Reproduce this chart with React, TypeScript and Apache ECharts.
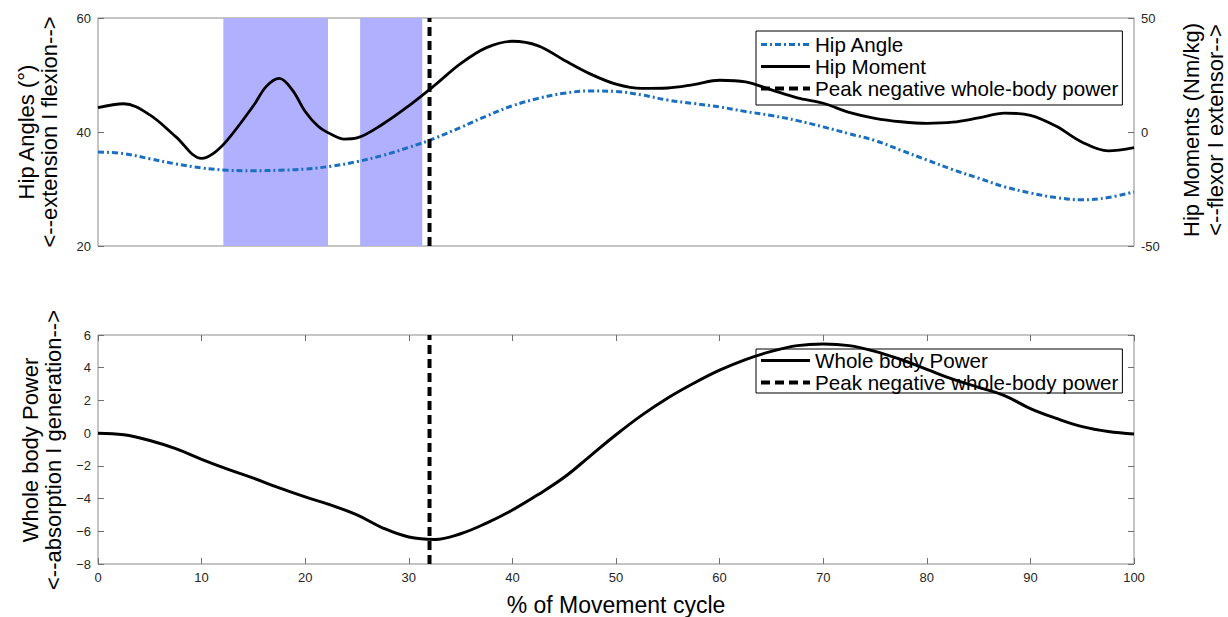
import React, { useEffect, useRef } from "react";
import * as echarts from "echarts";

const FONT = "'Liberation Sans', Arial, Helvetica, sans-serif";

// % of movement cycle (sample positions)
const cycleX = [0, 2.5, 5, 7.5, 10, 12.5, 15, 17.5, 20, 22.5, 25, 27.5, 30, 32.5, 35, 37.5, 40, 42.5, 45, 47.5, 50, 52.5, 55, 57.5, 60, 62.5, 65, 67.5, 70, 72.5, 75, 77.5, 80, 82.5, 85, 87.5, 90, 92.5, 95, 97.5, 100];

// top panel (left axis, degrees)
const hipAngle = [36.5, 36.2, 35.3, 34.4, 33.7, 33.3, 33.2, 33.3, 33.5, 34.0, 34.8, 35.9, 37.3, 38.9, 40.8, 42.8, 44.6, 45.9, 46.8, 47.2, 47.1, 46.5, 45.6, 45.0, 44.4, 43.6, 42.9, 42.0, 40.9, 39.7, 38.5, 36.8, 35.1, 33.4, 31.9, 30.4, 29.3, 28.5, 28.1, 28.5, 29.5];

// top panel (right axis, Nm/kg) - denser sampling around the sharp features
const momentX = [0, 2.5, 5, 7.5, 10, 11.25, 12.5, 15, 16.25, 17.5, 18.75, 20, 21.25, 22.5, 23.75, 25, 27.5, 30, 32.5, 35, 37.5, 40, 42.5, 45, 47.5, 50, 52.5, 55, 57.5, 60, 62.5, 65, 67.5, 70, 72.5, 75, 77.5, 80, 82.5, 85, 87.5, 90, 92.5, 95, 97.5, 100];
const hipMoment = [10.7, 12.4, 7.5, -2, -11.6, -9, -3.5, 11.5, 20, 23.5, 18.5, 9, 2.5, -1, -3.1, -2.6, 3.5, 11.5, 20.5, 30, 37, 39.8, 37.8, 31.5, 25.5, 21, 19.1, 19.3, 20.8, 22.7, 22, 18.5, 15, 12.6, 8.6, 6, 4.5, 3.8, 4.3, 6.2, 8.3, 7.3, 2.5, -4.5, -8.3, -6.9];

// bottom panel
const wholeBodyPower = [0, -0.1, -0.45, -0.95, -1.6, -2.2, -2.75, -3.35, -3.9, -4.4, -5.0, -5.8, -6.35, -6.5, -6.15, -5.5, -4.7, -3.75, -2.7, -1.4, -0.1, 1.1, 2.15, 3.05, 3.85, 4.5, 5.0, 5.35, 5.45, 5.35, 5.0, 4.5, 3.9, 3.3, 2.8, 2.3, 1.5, 0.9, 0.4, 0.1, -0.05];

const peakX = 32;
const shadedBands = [
  [12.1, 22.2],
  [25.3, 31.3],
];

const angleRange = [20, 60];
const momentRange = [-50, 50];
const powerRange = [-8, 6];

const legendTop = ["Hip Angle", "Hip Moment", "Peak negative whole-body power"];
const legendBottom = ["Whole body Power", "Peak negative whole-body power"];

const zip = (xs: number[], ys: number[]) => xs.map((x, i) => [x, ys[i]]);

const BORDER = "#8a8a8a";
const LABEL = "#262626";

export default function App() {
  const ref = useRef<HTMLDivElement>(null);
  useEffect(() => {
    if (!ref.current) return;
    const chart = echarts.init(ref.current, undefined, { renderer: "svg" });
    const tick = { show: true, inside: true, length: 6, lineStyle: { color: "#707070", width: 1 } };
    const lbl = { color: LABEL, fontSize: 13, fontFamily: FONT, margin: 7 };
    const noLine = { show: false, onZero: false };
    const minus = (v: number) => String(v).replace("-", "\u2212");
    const peakLine = { color: "#000", width: 4, type: [9, 5] as any };
    const legendCommon = {
      orient: "vertical",
      left: 756,
      itemWidth: 49,
      itemHeight: 14,
      itemGap: 1,
      itemTextGap: 6,
      borderColor: "#000",
      borderWidth: 1,
      borderRadius: 0,
      backgroundColor: "#fff",
      selectedMode: false,
      itemStyle: { opacity: 0, borderWidth: 0 },
      lineStyle: { width: "inherit", type: "inherit" },
      textStyle: { fontSize: 20.6, fontFamily: FONT, color: "#000", lineHeight: 20 },
    };
    chart.setOption({
      animation: false,
      grid: [
        { left: 98, top: 18, width: 1036, height: 228, show: true, borderColor: BORDER, borderWidth: 1 },
        { left: 98, top: 335, width: 1036, height: 229, show: true, borderColor: BORDER, borderWidth: 1 },
      ],
      xAxis: [
        { type: "value", gridIndex: 0, min: 0, max: 100, axisLabel: { show: false }, axisTick: { show: false }, axisLine: noLine, splitLine: { show: false } },
        { type: "value", gridIndex: 1, position: "bottom", min: 0, max: 100, interval: 10, axisLabel: lbl, axisTick: tick, axisLine: noLine, splitLine: { show: false } },
        { type: "value", gridIndex: 1, position: "top", min: 0, max: 100, interval: 10, axisLabel: { show: false }, axisTick: tick, axisLine: noLine, splitLine: { show: false } },
      ],
      yAxis: [
        { type: "value", gridIndex: 0, position: "left", min: angleRange[0], max: angleRange[1], interval: 20, axisLabel: lbl, axisTick: tick, axisLine: noLine, splitLine: { show: false } },
        { type: "value", gridIndex: 0, position: "right", min: momentRange[0], max: momentRange[1], interval: 50, axisLabel: lbl, axisTick: tick, axisLine: noLine, splitLine: { show: false } },
        { type: "value", gridIndex: 1, position: "left", min: powerRange[0], max: powerRange[1], interval: 2, axisLabel: { ...lbl, formatter: minus }, axisTick: tick, axisLine: noLine, splitLine: { show: false } },
        { type: "value", gridIndex: 1, position: "right", min: powerRange[0], max: powerRange[1], interval: 2, axisLabel: { show: false }, axisTick: tick, axisLine: noLine, splitLine: { show: false } },
      ],
      legend: [
        { ...legendCommon, data: legendTop, top: 31, padding: [3, 4, 6, 3] },
        { ...legendCommon, data: legendBottom, top: 349, padding: [1, 4, 0, 3] },
      ],
      series: [
        {
          name: "bands",
          type: "line",
          xAxisIndex: 0,
          yAxisIndex: 0,
          data: [],
          z: 1,
          silent: true,
          markArea: {
            silent: true,
            itemStyle: { color: "#b0b0ff", opacity: 1 },
            data: shadedBands.map(([a, b]) => [{ xAxis: a }, { xAxis: b }]),
          },
        },
        {
          name: "Hip Angle",
          type: "line",
          xAxisIndex: 0,
          yAxisIndex: 0,
          data: zip(cycleX, hipAngle),
          smooth: 0.4,
          symbol: "none",
          z: 3,
          lineStyle: { color: "#1a6fc0", width: 3, type: [6, 3, 2, 3] },
          itemStyle: { color: "#1a6fc0" },
        },
        {
          name: "Hip Moment",
          type: "line",
          xAxisIndex: 0,
          yAxisIndex: 1,
          data: zip(momentX, hipMoment),
          smooth: 0.35,
          symbol: "none",
          z: 4,
          lineStyle: { color: "#000", width: 2.8 },
          itemStyle: { color: "#000" },
        },
        {
          name: "Peak negative whole-body power",
          type: "line",
          xAxisIndex: 0,
          yAxisIndex: 0,
          data: [[peakX, angleRange[0]], [peakX, angleRange[1]]],
          symbol: "none",
          z: 5,
          lineStyle: peakLine,
          itemStyle: { color: "#000" },
        },
        {
          name: "Whole body Power",
          type: "line",
          xAxisIndex: 1,
          yAxisIndex: 2,
          data: zip(cycleX, wholeBodyPower),
          smooth: 0.4,
          symbol: "none",
          z: 4,
          lineStyle: { color: "#000", width: 3 },
          itemStyle: { color: "#000" },
        },
        {
          name: "Peak negative whole-body power",
          type: "line",
          xAxisIndex: 1,
          yAxisIndex: 2,
          data: [[peakX, powerRange[0]], [peakX, powerRange[1]]],
          symbol: "none",
          z: 5,
          lineStyle: peakLine,
          itemStyle: { color: "#000" },
        },
      ],
      graphic: [
        {
          type: "text",
          x: 38,
          y: 132,
          rotation: Math.PI / 2,
          style: { text: "Hip Angles (°)\n<--extension I flexion-->", fontSize: 22, lineHeight: 23, fontFamily: FONT, fill: "#000", align: "center", verticalAlign: "middle", textAlign: "center", textVerticalAlign: "middle" },
        },
        {
          type: "text",
          x: 42,
          y: 450,
          rotation: Math.PI / 2,
          style: { text: "Whole body Power\n<--absorption I generation-->", fontSize: 22, lineHeight: 23, fontFamily: FONT, fill: "#000", align: "center", verticalAlign: "middle", textAlign: "center", textVerticalAlign: "middle" },
        },
        {
          type: "text",
          x: 1203,
          y: 130,
          rotation: Math.PI / 2,
          style: { text: "Hip Moments (Nm/kg)\n<--flexor I extensor-->", fontSize: 22, lineHeight: 24, fontFamily: FONT, fill: "#000", align: "center", verticalAlign: "middle", textAlign: "center", textVerticalAlign: "middle" },
        },
        {
          type: "text",
          x: 616,
          y: 605,
          style: { text: "% of Movement cycle", fontSize: 23, fontFamily: FONT, fill: "#000", align: "center", verticalAlign: "middle", textAlign: "center", textVerticalAlign: "middle" },
        },
      ],
    });
    return () => chart.dispose();
  }, []);
  return <div ref={ref} style={{ position: "fixed", left: 0, top: 0, width: 1228, height: 617, background: "#fff" }} />;
}
